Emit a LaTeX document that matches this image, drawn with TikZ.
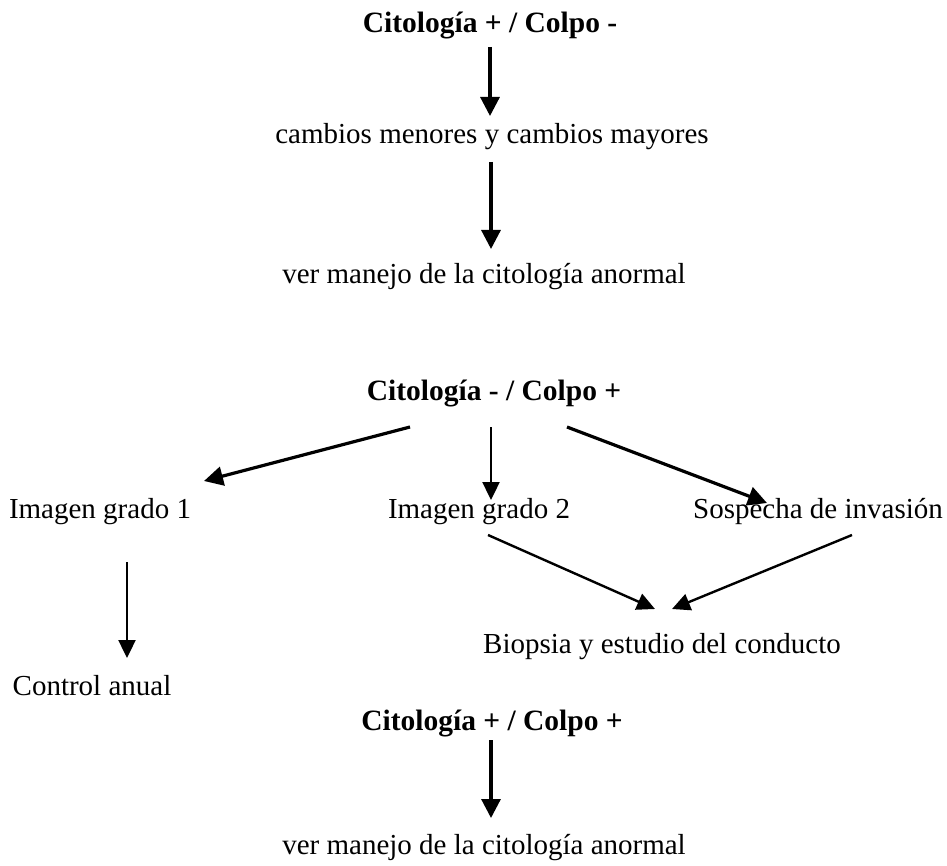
\documentclass[tikz,border=0pt]{standalone}
\usepackage{fontspec}
\setmainfont{Liberation Serif}
\usetikzlibrary{arrows.meta}
\begin{document}
\begin{tikzpicture}[x=1pt,y=-1pt,
  lbl/.style={inner sep=0pt, font=\fontsize{29}{34}\selectfont},
  hd/.style={inner sep=0pt, anchor=base, font=\fontsize{29.5}{34}\bfseries\selectfont},
  arr/.style={line width=3.2pt, -{Triangle[length=19pt,width=19pt]}},
  arrt/.style={line width=2.4pt, -{Triangle[length=18pt,width=17pt]}}]
\useasboundingbox (0,0) rectangle (947,866);
\node[hd] (h1) at (490,33) {Citología + / Colpo -};
\node[lbl] (c1) at (492,137) {cambios menores y cambios mayores};
\node[lbl] (v1) at (484,277) {ver manejo de la citología anormal};
\node[hd] (h2) at (494,400) {Citología - / Colpo +};
\node[lbl] (i1) at (100,512) {Imagen grado 1};
\node[lbl] (i2) at (479,512) {Imagen grado 2};
\node[lbl] (s1) at (818,512) {Sospecha de invasión};
\node[lbl] (b1) at (662,647) {Biopsia y estudio del conducto};
\node[lbl] (ca) at (92,686) {Control anual};
\node[hd] (h3) at (492,730) {Citología + / Colpo +};
\node[lbl] (v2) at (484,848) {ver manejo de la citología anormal};
\coordinate (a1s) at (490,47);  \coordinate (a1e) at (490,116);
\coordinate (a2s) at (491,162); \coordinate (a2e) at (491,249);
\coordinate (a3s) at (410,427); \coordinate (a3e) at (204,481);
\coordinate (a4s) at (491,427); \coordinate (a4e) at (491,500);
\coordinate (a5s) at (567,427); \coordinate (a5e) at (767,503);
\coordinate (a6s) at (488,535); \coordinate (a6e) at (655,609);
\coordinate (a7s) at (852,535); \coordinate (a7e) at (672,609);
\coordinate (a8s) at (127,562); \coordinate (a8e) at (127,658);
\coordinate (a9s) at (491,740); \coordinate (a9e) at (491,818);
\draw[arr] (a1s) -- (a1e);
\draw[arr] (a2s) -- (a2e);
\draw[arr] (a3s) -- (a3e);
\draw[arrt] (a4s) -- (a4e);
\draw[arr] (a5s) -- (a5e);
\draw[arrt] (a6s) -- (a6e);
\draw[arrt] (a7s) -- (a7e);
\draw[arrt] (a8s) -- (a8e);
\draw[arr] (a9s) -- (a9e);
\end{tikzpicture}
\end{document}
